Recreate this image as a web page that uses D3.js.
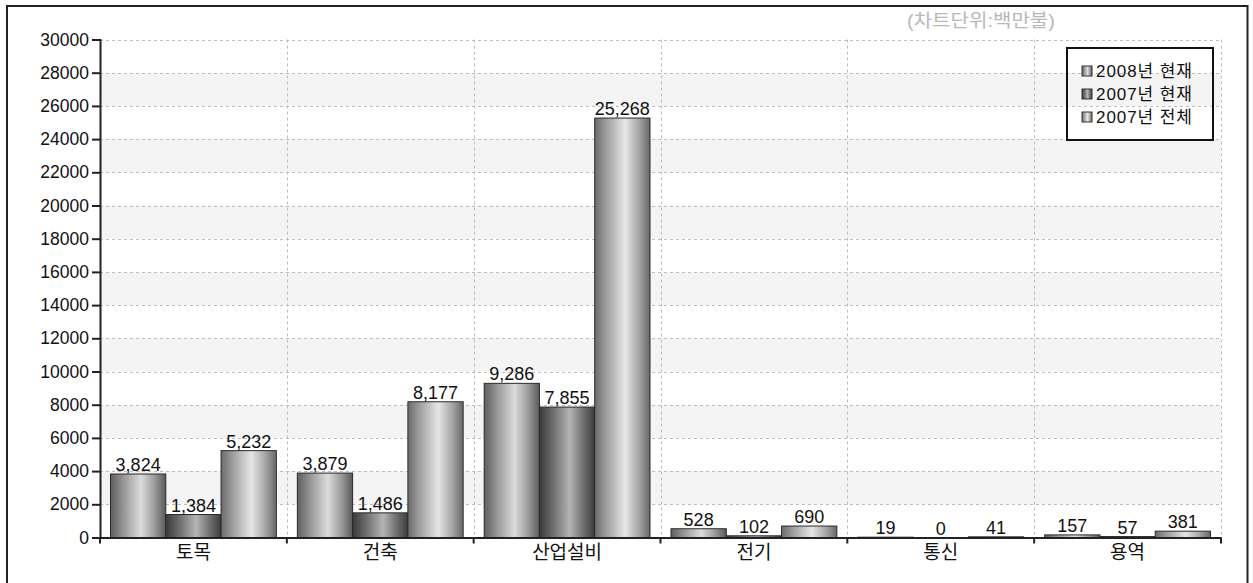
<!DOCTYPE html>
<html><head><meta charset="utf-8">
<script src="https://cdn.jsdelivr.net/npm/d3@7"></script>
<style>
html,body{margin:0;padding:0;background:#fff;}
svg{display:block;}
text{font-family:"Liberation Sans","Noto Sans CJK KR",Arial,sans-serif;}
</style></head>
<body>
<script>
const categories = ['토목','건축','산업설비','전기','통신','용역'];
const seriesNames = ['2008년 현재','2007년 현재','2007년 전체'];
const s2008 = [3824,3879,9286,528,19,157];
const s2007cur = [1384,1486,7855,102,0,57];
const s2007all = [5232,8177,25268,690,41,381];
const yTicks = [0,2000,4000,6000,8000,10000,12000,14000,16000,18000,20000,22000,24000,26000,28000,30000];
const unitLabel = '(차트단위:백만불)';
const seriesValues = [s2008, s2007cur, s2007all];

const W = 1253, H = 583;
const svg = d3.select('body').append('svg').attr('width', W).attr('height', H);

const x0 = 100, x1 = 1221, yTop = 39.5, yBot = 537.5;
const x = d3.scaleBand().domain(categories).range([x0, x1]).paddingInner(0).paddingOuter(0);
const xs = d3.scaleBand().domain(d3.range(seriesNames.length)).range([0, x.bandwidth()]).paddingInner(0).paddingOuter(0.19);
const y = d3.scaleLinear().domain([0, 30000]).range([yBot, yTop]);

// gradients
const defs = svg.append('defs');
const gradStops = [
  ['#5e5e5e','#9a9a9a','#dcdcdc','#9a9a9a','#5a5a5a'],
  ['#3a3a3a','#6e6e6e','#b4b4b4','#6e6e6e','#3c3c3c'],
  ['#6c6c6c','#a6a6a6','#e6e6e6','#a6a6a6','#686868']
];
gradStops.forEach((st, i) => {
  const g = defs.append('linearGradient').attr('id', 'g' + i)
    .attr('x1', '0%').attr('x2', '100%').attr('y1', '0%').attr('y2', '0%');
  const offs = [0, 0.25, 0.55, 0.8, 1];
  st.forEach((c, j) => g.append('stop').attr('offset', offs[j]).attr('stop-color', c));
});

// outer border
svg.append('rect').attr('x', 7).attr('y', 6).attr('width', 1240.5).attr('height', 600)
  .attr('fill', 'none').attr('stroke', '#222').attr('stroke-width', 2);

// background bands
const bands = yTicks.slice(0, -1).filter((t, i) => i % 2 === 1);
svg.append('g').selectAll('rect').data(bands).join('rect')
  .attr('x', x0).attr('width', x1 - x0)
  .attr('y', d => y(d + 2000)).attr('height', d => y(d) - y(d + 2000))
  .attr('fill', '#f4f4f4');

// horizontal grid
svg.append('g').selectAll('line').data(yTicks.filter(t => t > 0)).join('line')
  .attr('x1', x0).attr('x2', x1)
  .attr('y1', d => Math.round(y(d)) + 0.5).attr('y2', d => Math.round(y(d)) + 0.5)
  .attr('stroke', '#bdbdbd').attr('stroke-dasharray', '3,3');

// vertical grid
const bounds = categories.map(c => x(c) + x.bandwidth());
svg.append('g').selectAll('line').data(bounds).join('line')
  .attr('x1', d => Math.round(d) + 0.5).attr('x2', d => Math.round(d) + 0.5)
  .attr('y1', yTop).attr('y2', yBot)
  .attr('stroke', '#bdbdbd').attr('stroke-dasharray', '3,3');

// unit label
svg.append('text').attr('x', 907).attr('y', 27)
  .attr('font-size', 18).attr('fill', '#b8b8b8')
  .attr('textLength', 148).attr('lengthAdjust', 'spacingAndGlyphs').text(unitLabel);

// bars
const groups = svg.append('g').selectAll('g').data(categories).join('g')
  .attr('transform', d => `translate(${x(d)},0)`);
groups.selectAll('rect').data((c, ci) => seriesValues.map((s, si) => ({si, v: s[ci]}))).join('rect')
  .attr('x', d => xs(d.si)).attr('width', xs.bandwidth())
  .attr('y', d => y(d.v)).attr('height', d => Math.max(0, yBot - y(d.v)))
  .attr('fill', d => `url(#g${d.si})`)
  .attr('stroke', '#2a2a2a').attr('stroke-width', 1);
groups.selectAll('text.v').data((c, ci) => seriesValues.map((s, si) => ({si, v: s[ci]}))).join('text')
  .attr('class', 'v')
  .attr('x', d => xs(d.si) + xs.bandwidth() / 2).attr('y', d => y(d.v) - 3)
  .attr('text-anchor', 'middle').attr('font-size', 18).attr('fill', '#111')
  .text(d => d3.format(',')(d.v));

// y axis
const yAxis = svg.append('g').attr('transform', `translate(${x0},0)`)
  .call(d3.axisLeft(y).tickValues(yTicks).tickSize(8).tickPadding(3).tickFormat(d3.format('d')));
yAxis.select('.domain').attr('stroke', '#222').attr('stroke-width', 2);
yAxis.selectAll('.tick line').attr('stroke', '#222').attr('stroke-width', 2);
yAxis.selectAll('text').attr('font-size', 17.5).attr('fill', '#111')
  .attr('font-family', '"Liberation Sans",Arial,sans-serif');

// x axis
const xAxis = svg.append('g').attr('transform', `translate(0,${yBot})`)
  .call(d3.axisBottom(x).tickSize(0).tickPadding(4));
xAxis.select('.domain').attr('stroke', '#222').attr('stroke-width', 2);
xAxis.selectAll('text').attr('font-size', 19).attr('fill', '#111')
  .attr('y', 21).attr('dy', 0)
  .attr('font-family', '"Noto Sans CJK KR",sans-serif');
svg.append('g').selectAll('line').data([x0].concat(bounds)).join('line')
  .attr('x1', d => d).attr('x2', d => d).attr('y1', yBot).attr('y2', yBot + 6)
  .attr('stroke', '#222').attr('stroke-width', 2);

// legend
const lg = svg.append('g').attr('transform', 'translate(1067,48)');
lg.append('rect').attr('width', 146).attr('height', 92)
  .attr('fill', 'none').attr('stroke', '#111').attr('stroke-width', 2);
seriesNames.forEach((n, i) => {
  const row = lg.append('g').attr('transform', `translate(15,${23 + i * 23})`);
  row.append('rect').attr('x', 0).attr('y', -5).attr('width', 10).attr('height', 10)
    .attr('fill', `url(#g${i})`).attr('stroke', '#333').attr('stroke-width', 1);
  row.append('text').attr('x', 14).attr('y', 6).attr('font-size', 17).attr('fill', '#111')
    .attr('textLength', 96).text(n);
});
</script>
</body></html>
